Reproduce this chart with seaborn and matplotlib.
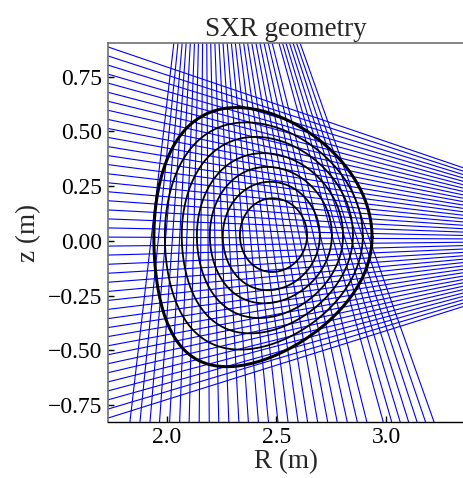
import numpy as np
import pandas as pd
import matplotlib
matplotlib.use("Agg")
import matplotlib.pyplot as plt
import seaborn as sns

# -----------------------------------------------------------------------------
# Flux surfaces (innermost -> last closed surface), Miller-like shape parameters
# -----------------------------------------------------------------------------
surf_R0 = [2.487, 2.477, 2.475, 2.471, 2.459, 2.443, 2.439]
surf_Z0 = [0.026, 0.022, 0.026, 0.024, 0.026, 0.022, 0.017]
surf_a = [0.153, 0.221, 0.278, 0.333, 0.390, 0.451, 0.497]
surf_kappa = [1.10, 1.12, 1.12, 1.13, 1.15, 1.15, 1.19]
surf_delta_up = [0.02, 0.02, 0.06, 0.09, 0.14, 0.18, 0.24]
surf_delta_low = [0.04, 0.07, 0.11, 0.15, 0.20, 0.24, 0.33]

# -----------------------------------------------------------------------------
# SXR cameras: pinhole position + where every chord crosses a reference plane
# -----------------------------------------------------------------------------
# vertical camera (two groups of chords), crossing at z = 0.903
vert_pinhole = (2.175, 2.13)
vert_zref = 0.903
vert_R_group1 = [2.033, 2.052, 2.071, 2.089, 2.108, 2.127, 2.145, 2.164, 2.183,
                 2.201, 2.220, 2.239, 2.257, 2.276, 2.295, 2.313, 2.332, 2.351,
                 2.369, 2.388, 2.407, 2.425, 2.444, 2.463, 2.481]
vert_R_group2 = [2.512, 2.528, 2.544, 2.560, 2.576, 2.592, 2.608]

# horizontal camera, crossing at R = 1.733
horiz_pinhole = (4.318, 0.004)
horiz_Rref = 1.733
horiz_z = [0.885, 0.844, 0.802, 0.761, 0.720, 0.678, 0.637, 0.596, 0.554,
           0.513, 0.472, 0.430, 0.389, 0.348, 0.306, 0.265, 0.224, 0.183,
           0.141, 0.100, 0.059, 0.017, -0.024, -0.065, -0.107, -0.148,
           -0.189, -0.231, -0.272, -0.313, -0.355, -0.396, -0.437, -0.479,
           -0.520, -0.561, -0.602, -0.644, -0.685, -0.726, -0.768, -0.809]


def surface_points(R0, Z0, a, kappa, du, dl, n=400):
    th = np.linspace(0, 2 * np.pi, n)
    d = np.where(np.sin(th) >= 0, du, dl)
    R = R0 + a * np.cos(th + np.arcsin(d) * np.sin(th))
    Z = Z0 + kappa * a * np.sin(th)
    return R, Z


def fmt_minus(v, pos, nd):
    return f"{v:.{nd}f}".replace('-', '\u2212')


def main():
    sns.set_theme(style="white")
    plt.rcParams['font.family'] = 'serif'
    plt.rcParams['font.serif'] = ['Liberation Serif', 'DejaVu Serif']

    fig = plt.figure(figsize=(4.64, 4.78), dpi=100)
    ax = fig.add_axes([108 / 464, 56 / 478, 356 / 464, 379 / 478])

    # chords table
    rows = []
    cid = 0
    pr, pz = vert_pinhole
    for r in vert_R_group1 + vert_R_group2:
        rows.append((cid, pr, pz))
        rows.append((cid, pr + 3.0 * (r - pr), pz + 3.0 * (vert_zref - pz)))
        cid += 1
    pr, pz = horiz_pinhole
    for z in horiz_z:
        rows.append((cid, pr, pz))
        rows.append((cid, pr + 1.5 * (horiz_Rref - pr), pz + 1.5 * (z - pz)))
        cid += 1
    df_los = pd.DataFrame(rows, columns=['chord', 'R', 'z'])

    sns.lineplot(data=df_los, x='R', y='z', units='chord', estimator=None,
                 sort=False, color='blue', linewidth=0.8, ax=ax, legend=False)

    # flux surfaces
    srows = []
    for i in range(len(surf_R0)):
        R, Z = surface_points(surf_R0[i], surf_Z0[i], surf_a[i], surf_kappa[i],
                              surf_delta_up[i], surf_delta_low[i])
        for r, z in zip(R, Z):
            srows.append((i, r, z))
    df_s = pd.DataFrame(srows, columns=['surf', 'R', 'z'])
    last = len(surf_R0) - 1

    sns.lineplot(data=df_s[df_s['surf'] < last], x='R', y='z', units='surf',
                 estimator=None, sort=False, color='black', linewidth=1.3,
                 ax=ax, legend=False, zorder=3)
    sns.lineplot(data=df_s[df_s['surf'] == last], x='R', y='z',
                 estimator=None, sort=False, color='black', linewidth=2.2,
                 ax=ax, legend=False, zorder=3)

    ax.set_xlim(1.733, 3.355)
    ax.set_ylim(-0.827, 0.903)
    ax.set_xticks([2.0, 2.5, 3.0])
    ax.set_yticks([-0.75, -0.5, -0.25, 0.0, 0.25, 0.5, 0.75])
    ax.yaxis.set_major_formatter(matplotlib.ticker.FuncFormatter(lambda v, p: fmt_minus(v, p, 2)))
    ax.xaxis.set_major_formatter(matplotlib.ticker.FuncFormatter(lambda v, p: fmt_minus(v, p, 1)))
    ax.tick_params(direction='in', length=4, width=1, labelsize=17,
                   colors='black', left=True, bottom=True)
    ax.tick_params(axis='y', pad=4)
    ax.tick_params(axis='x', pad=3.5)
    for side in ['left', 'top']:
        ax.spines[side].set_color('#707070')
        ax.spines[side].set_linewidth(1.2)
    ax.spines['bottom'].set_color('black')
    ax.spines['bottom'].set_linewidth(1.0)
    ax.spines['right'].set_visible(False)

    ax.set_title("SXR geometry", fontsize=19.5, pad=5)
    ax.set_xlabel("R (m)", fontsize=19.5, labelpad=1)
    ax.set_ylabel("z (m)", fontsize=19.5, labelpad=5)

    fig.savefig('out.png', dpi=100)
    plt.close(fig)


if __name__ == "__main__":
    main()
